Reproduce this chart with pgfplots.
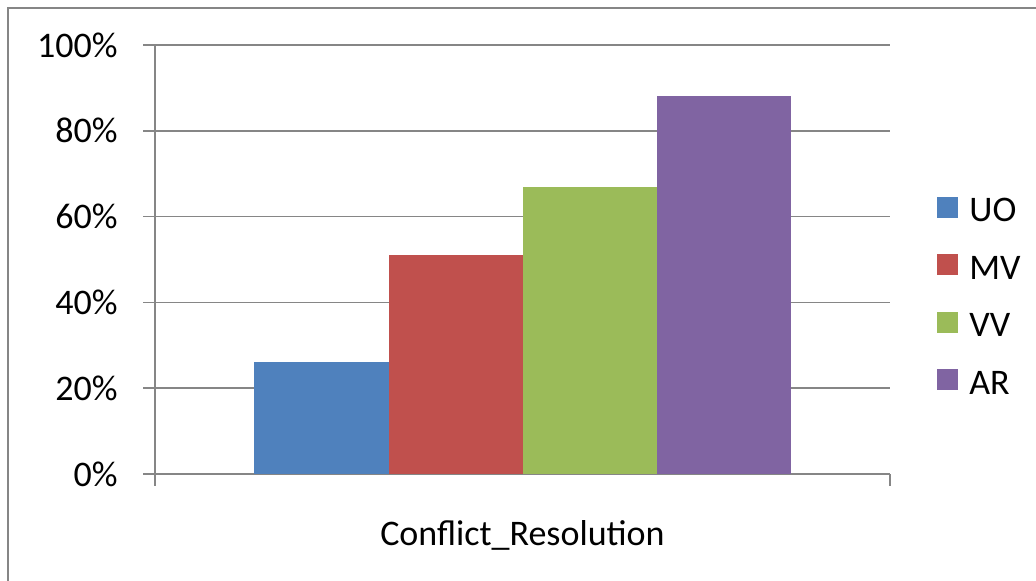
\documentclass[border=0pt]{standalone}
\usepackage{pgfplots}
\pgfplotsset{compat=1.18}
\usepackage{fontspec}
\setmainfont{Carlito}
\definecolor{uo}{HTML}{4F81BD}
\definecolor{mv}{HTML}{C0504D}
\definecolor{vv}{HTML}{9BBB59}
\definecolor{ar}{HTML}{8064A2}
\definecolor{gridgray}{HTML}{868686}
\begin{document}
\begin{tikzpicture}[x=1pt,y=1pt]
\useasboundingbox (0,0) rectangle (518,290.5);
\begin{scope}
\clip (0,0) rectangle (518,290.5);
\draw[color=gridgray, line width=1pt] (4,-10) rectangle (530,286.5);
\end{scope}
\begin{axis}[
  at={(77.5pt,53.5pt)}, anchor=south west,
  scale only axis, width=367.5pt, height=214.5pt,
  font=\fontsize{18}{21.6}\selectfont,
  ymin=0, ymax=100, xmin=-0.5, xmax=0.5,
  ytick={0,20,40,60,80,100},
  yticklabels={0\%,20\%,40\%,60\%,80\%,100\%},
  yticklabel style={anchor=east, inner sep=0pt, xshift=-12.5pt},
  xtick={-0.5,0.5}, xticklabels={},
  axis x line*=bottom, axis y line*=left,
  ymajorgrids, grid style={gridgray, line width=0.8pt},
  axis line style={gridgray, line width=0.8pt},
  tick style={gridgray, line width=0.8pt},
  tick align=outside, major tick length=6pt,
  ybar=0pt, bar width=67pt,
  xlabel={Conflict\_Resolution},
  xlabel style={at={(axis description cs:0.5,0)}, anchor=center, yshift=-30.5pt, inner sep=0pt},
  legend style={at={(axis description cs:1,0.408)}, anchor=west, xshift=23.5pt,
    draw=none, fill=none, inner sep=0pt, row sep=11.75pt,
    font=\fontsize{18}{21.6}\selectfont,
    nodes={inner sep=0pt, text height=13pt, text depth=4pt},
    cells={anchor=west},
    /tikz/every odd column/.style={column sep=5.5pt}},
  legend image code/.code={\draw[#1,/tikz/.cd,draw=none] (0pt,-2.5pt) rectangle (10.5pt,8pt);},
]
\addplot[fill=uo, draw=none] coordinates {(0,26)};
\addplot[fill=mv, draw=none] coordinates {(0,51)};
\addplot[fill=vv, draw=none] coordinates {(0,67)};
\addplot[fill=ar, draw=none] coordinates {(0,88)};
\legend{UO,MV,VV,AR}
\end{axis}
\end{tikzpicture}
\end{document}
